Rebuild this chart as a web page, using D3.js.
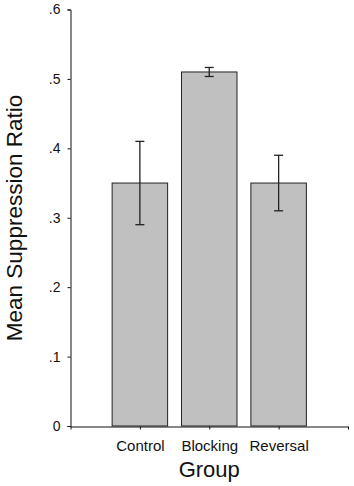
<!DOCTYPE html>
<html>
<head>
<meta charset="utf-8">
<script src="https://cdn.jsdelivr.net/npm/d3@7"></script>
<style>
  body { margin: 0; background: #fff; }
  text { font-family: "Liberation Sans", Arial, sans-serif; fill: #111; }
</style>
</head>
<body>
<div id="chart"></div>
<script>
// data
var groups = ['Control', 'Blocking', 'Reversal'];
var means = [0.35, 0.51, 0.35];
var errors = [0.06, 0.0065, 0.04];
var yTicks = [0, 0.1, 0.2, 0.3, 0.4, 0.5, 0.6];

var width = 354, height = 486;

var svg = d3.select('#chart').append('svg')
    .attr('width', width)
    .attr('height', height);

// scales - groups sit at 1,2,3 on a 0..4 axis
var xScale = d3.scaleLinear()
    .domain([0, groups.length + 1])
    .range([70.5, 348]);

var yScale = d3.scaleLinear()
    .domain([0, 0.6])
    .range([426, 9.5]);

var step = xScale(1) - xScale(0);
var barW = step * 0.8;

// bars
svg.selectAll('.bar')
    .data(groups)
    .enter()
    .append('rect')
    .attr('class', 'bar')
    .attr('x', function(d, i) { return xScale(i + 1) - barW / 2; })
    .attr('y', function(d, i) { return yScale(means[i]); })
    .attr('width', barW)
    .attr('height', function(d, i) { return yScale(0) - yScale(means[i]); })
    .style('fill', '#c0c0c0')
    .style('stroke', '#222')
    .style('stroke-width', 1);

// error bars
var eb = svg.selectAll('.err')
    .data(groups)
    .enter()
    .append('g')
    .attr('class', 'err')
    .style('stroke', '#222')
    .style('stroke-width', 1.3);

eb.append('line')
    .attr('x1', function(d, i) { return xScale(i + 1); })
    .attr('x2', function(d, i) { return xScale(i + 1); })
    .attr('y1', function(d, i) { return yScale(means[i] + errors[i]); })
    .attr('y2', function(d, i) { return yScale(means[i] - errors[i]); });

[1, -1].forEach(function(s) {
    eb.append('line')
        .attr('x1', function(d, i) { return xScale(i + 1) - 4.5; })
        .attr('x2', function(d, i) { return xScale(i + 1) + 4.5; })
        .attr('y1', function(d, i) { return yScale(means[i] + s * errors[i]); })
        .attr('y2', function(d, i) { return yScale(means[i] + s * errors[i]); });
});

// axes
var yAxis = svg.append('g')
    .attr('transform', 'translate(' + 70.5 + ',0)')
    .call(d3.axisLeft(yScale)
        .tickValues(yTicks)
        .tickSize(3)
        .tickPadding(7)
        .tickFormat(function(d) { return d === 0 ? '0' : d3.format('.1f')(d).replace(/^0/, ''); }));

var xAxis = svg.append('g')
    .attr('transform', 'translate(0,' + 426.5 + ')')
    .call(d3.axisBottom(xScale)
        .tickValues(d3.range(0, groups.length + 2))
        .tickSize(3)
        .tickSizeOuter(0)
        .tickPadding(11)
        .tickFormat(function(d) { return groups[d - 1] || ''; }));

[yAxis, xAxis].forEach(function(a) {
    a.select('.domain').style('stroke', '#111');
    a.selectAll('.tick line').style('stroke', '#111');
    a.selectAll('text').style('fill', '#111')
        .style('font-family', '"Liberation Sans", Arial, sans-serif');
});
yAxis.selectAll('text').style('font-size', '14px');
xAxis.selectAll('text').style('font-size', '15px');

// titles
svg.append('text')
    .attr('x', xScale(2))
    .attr('y', 477)
    .attr('text-anchor', 'middle')
    .style('font-size', '22px')
    .text('Group');

svg.append('text')
    .attr('transform', 'translate(' + 21.5 + ',' + 218 + ') rotate(-90)')
    .attr('text-anchor', 'middle')
    .style('font-size', '22.5px')
    .text('Mean Suppression Ratio');
</script>
</body>
</html>
